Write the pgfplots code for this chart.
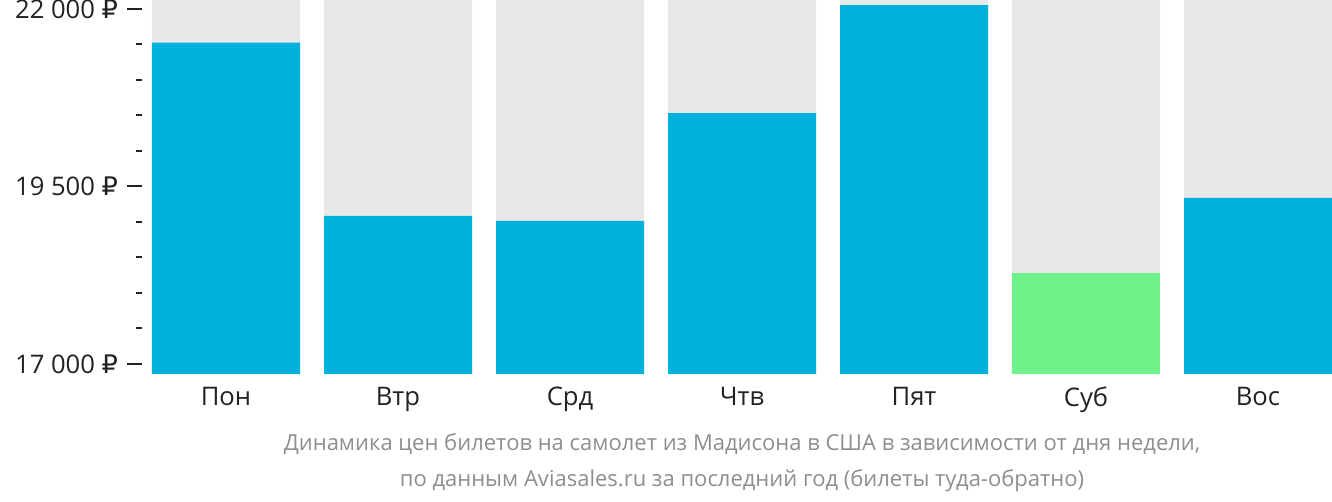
\documentclass[border=0pt]{standalone}
\usepackage{fontspec}
\setmainfont{Open Sans}
\newfontfamily\rubfont{DejaVu Sans}
\newcommand{\rub}{{\rubfont ₽}}
\usepackage{pgfplots}
\pgfplotsset{compat=1.18}
\definecolor{barblue}{HTML}{00B1DD}
\definecolor{bargreen}{HTML}{6EF28A}
\definecolor{bargrey}{HTML}{E8E8E8}
\definecolor{txt}{HTML}{222222}
\definecolor{cap}{HTML}{8E8E8E}
\begin{document}
\begin{tikzpicture}
\path[use as bounding box] (0,0) rectangle (666pt,251pt);
\begin{axis}[
  at={(71pt,64pt)}, anchor=south west,
  scale only axis, width=595pt, height=187pt,
  xmin=-0.48837, xmax=6.43023,
  ymin=16859, ymax=22127,
  ybar, bar width=0.8605, bar shift=0pt,
  axis line style={draw=none},
  axis x line*=bottom, axis y line*=left,
  xtick={0,1,2,3,4,5,6},
  xticklabels={Пон,Втр,Срд,Чтв,Пят,Суб,Вос},
  x tick style={draw=none},
  xticklabel style={font=\fontsize{12.8pt}{14pt}\selectfont, text=txt, yshift=4.5pt},
  ytick={17000,19500,22000},
  yticklabels={17 000 \rub,19 500 \rub,22 000 \rub},
  minor ytick={17500,18000,18500,19000,20000,20500,21000,21500},
  tick align=outside,
  major tick length=7.5pt, minor tick length=3pt,
  y tick style={line width=1pt, draw=txt},
  yticklabel style={font=\fontsize{12.8pt}{14pt}\selectfont, text=txt, xshift=-1pt},
  clip=true,
]
\addplot[fill=bargrey, draw=none] coordinates {(0,22127) (1,22127) (2,22127) (3,22127) (4,22127) (5,22127) (6,22127)};
\addplot[fill=barblue, draw=none] coordinates {(0,21525) (1,19085) (2,19015) (3,20535) (4,22056) (6,19338)};
\addplot[fill=bargreen, draw=none] coordinates {(5,18282)};
\end{axis}
\node[text=cap, font=\fontsize{11pt}{12pt}\selectfont] at (371pt,29pt) {Динамика цен билетов на самолет из Мадисона в США в зависимости от дня недели,};
\node[text=cap, font=\fontsize{11pt}{12pt}\selectfont] at (371pt,10.5pt) {по данным Aviasales.ru за последний год (билеты туда-обратно)};
\end{tikzpicture}
\end{document}
